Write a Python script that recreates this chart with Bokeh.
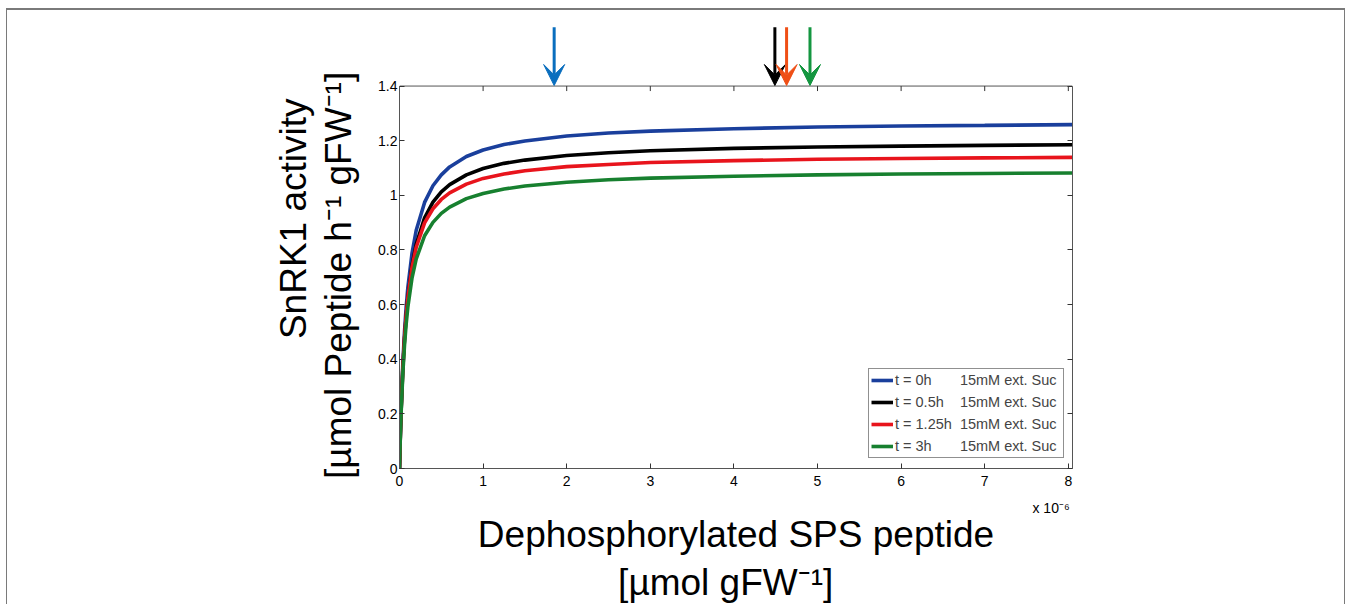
from math import pi
from bokeh.plotting import figure
from bokeh.models import (Range1d, LinearAxis, FixedTicker, CustomJSTickFormatter,
                          Arrow, VeeHead, Legend, LegendItem)
from bokeh.embed import file_html
from bokeh.resources import INLINE

# ---- data (x in units of 1e-6 µmol gFW^-1) ----
x_e6 = [0, 0.01, 0.02, 0.04, 0.06, 0.08, 0.1, 0.15, 0.2, 0.3, 0.4, 0.5, 0.6, 0.8,
        1.0, 1.25, 1.5, 2, 2.5, 3, 4, 5, 6, 7, 8.05]
act_0h = [0, 0.125, 0.227, 0.386, 0.502, 0.592, 0.663, 0.789, 0.872, 0.974, 1.035, 1.075,
          1.104, 1.142, 1.166, 1.186, 1.199, 1.217, 1.228, 1.235, 1.244, 1.250, 1.254, 1.256, 1.259]
act_05h = [0, 0.118, 0.214, 0.364, 0.474, 0.558, 0.625, 0.744, 0.821, 0.918, 0.975, 1.013,
           1.039, 1.075, 1.098, 1.117, 1.129, 1.146, 1.156, 1.163, 1.172, 1.177, 1.180, 1.183, 1.185]
act_125h = [0, 0.122, 0.221, 0.371, 0.479, 0.561, 0.625, 0.737, 0.810, 0.899, 0.951, 0.985,
            1.009, 1.041, 1.062, 1.078, 1.090, 1.105, 1.113, 1.120, 1.127, 1.132, 1.135, 1.137, 1.139]
act_3h = [0, 0.115, 0.208, 0.350, 0.452, 0.530, 0.591, 0.698, 0.767, 0.852, 0.901, 0.934,
          0.957, 0.988, 1.007, 1.023, 1.034, 1.048, 1.057, 1.063, 1.070, 1.075, 1.078, 1.080, 1.082]

series_labels = ["t = 0h", "t = 0.5h", "t = 1.25h", "t = 3h"]
series_suffix = "15mM ext. Suc"
series_colors = ["#1a3f9c", "#000000", "#e8141c", "#17802f"]

# arrows above the plot box (x in units of 1e-6)
arrow_x = [1.85, 4.49, 4.63, 4.91]
arrow_colors = ["#0a6ebe", "#000000", "#ef4f16", "#149640"]

x_ticks = [0, 1, 2, 3, 4, 5, 6, 7, 8]
y_ticks = [0, 0.2, 0.4, 0.6, 0.8, 1.0, 1.2, 1.4]
x_min, x_max = 0, 8.05
y_box_top = 1.4

FONT = "Liberation Sans"
AXC = "#555555"
TICKC = "#333333"
NB = "\u00a0"

p = figure(frame_width=673, frame_height=448,
           min_border_left=393, min_border_right=273, min_border_top=12, min_border_bottom=128,
           x_range=Range1d(x_min, x_max), y_range=Range1d(0, 1.64),
           output_backend="svg", toolbar_location=None)
p.border_fill_color = None
p.background_fill_color = None
p.outline_line_color = None
p.grid.visible = False
p.styles = {"margin": "8px 0 0 6px",
            "box-shadow": "inset 1px 2px 0 0 #7a7a7a, inset -1px 0 0 0 #7a7a7a"}

fmt = CustomJSTickFormatter(code="return String(Number(tick.toFixed(2)));")


def style_axis(ax, ticks, bounds, show_labels=True):
    ax.ticker = FixedTicker(ticks=ticks)
    ax.formatter = fmt
    ax.bounds = bounds
    ax.axis_line_color = AXC
    ax.major_tick_line_color = TICKC
    ax.major_tick_in = 5
    ax.major_tick_out = 0
    ax.minor_tick_line_color = None
    ax.major_label_text_font = FONT
    ax.major_label_text_font_size = "14px"
    ax.major_label_text_color = "black" if show_labels else None


def text_axis(label, standoff, size):
    ax = LinearAxis(ticker=FixedTicker(ticks=[]), axis_label=label)
    ax.axis_line_color = None
    ax.major_tick_in = 0
    ax.major_tick_out = 0
    ax.major_label_standoff = 0
    ax.minor_tick_line_color = None
    ax.axis_label_standoff = standoff
    ax.axis_label_text_font = FONT
    ax.axis_label_text_font_size = size
    ax.axis_label_text_font_style = "normal"
    ax.axis_label_text_color = "black"
    return ax


style_axis(p.xaxis[0], x_ticks, (x_min, x_max))
style_axis(p.yaxis[0], y_ticks, (0, y_box_top))
p.xaxis[0].major_label_standoff = 7
p.yaxis[0].major_label_standoff = 2

right_ax = LinearAxis()
style_axis(right_ax, y_ticks, (0, y_box_top), False)
p.add_layout(right_ax, "right")

# top edge of the box and its inward ticks
p.line([x_min, x_max], [y_box_top, y_box_top], line_color=AXC, line_width=1)
p.ray(x=x_ticks, y=[y_box_top] * len(x_ticks), length=5, length_units="screen",
      angle=-pi / 2, line_color=TICKC, line_width=1)

# axis titles (label-only axes; non-breaking spaces shift the centred text)
exp_axis = text_axis("x 10⁻⁶" + NB * 11, 11, "14px")
exp_axis.axis_label_align = "end"
p.add_layout(exp_axis, "below")
p.add_layout(text_axis("Dephosphorylated SPS peptide", -5, "37px"), "below")
p.add_layout(text_axis("[µmol gFW⁻¹]" + NB * 2, 4, "37px"), "below")
p.add_layout(text_axis("[µmol Peptide h⁻¹ gFW⁻¹]" + NB * 6, 17, "37px"), "left")
p.add_layout(text_axis(NB * 5 + "SnRK1 activity", 1, "37px"), "left")

items = []
for lab, ys, col in zip(series_labels, [act_0h, act_05h, act_125h, act_3h], series_colors):
    r = p.line(x_e6, ys, line_color=col, line_width=3.6)
    items.append((lab, r))

# legend: align second column with non-breaking spaces
pads = {"t = 0h": 7, "t = 0.5h": 4, "t = 1.25h": 2, "t = 3h": 7}
legend = Legend(items=[LegendItem(label=lab + NB * pads[lab] + series_suffix + NB,
                                  renderers=[r]) for lab, r in items],
                location=(469, 10), label_text_font=FONT, label_text_font_size="14.5px",
                glyph_width=22, glyph_height=18, label_height=18, label_standoff=2,
                padding=2, spacing=4, margin=0,
                border_line_color="#222222", border_line_width=1,
                background_fill_color="white", background_fill_alpha=1)
p.add_layout(legend, "center")

# arrows above the box
for ax_, col in zip(arrow_x, arrow_colors):
    p.add_layout(Arrow(x_start=ax_, y_start=1.615, x_end=ax_, y_end=1.402,
                       line_color=col, line_width=3,
                       end=VeeHead(size=21, fill_color=col, line_color=col, line_width=1)))

open("out.html", "w").write(file_html(p, INLINE))
